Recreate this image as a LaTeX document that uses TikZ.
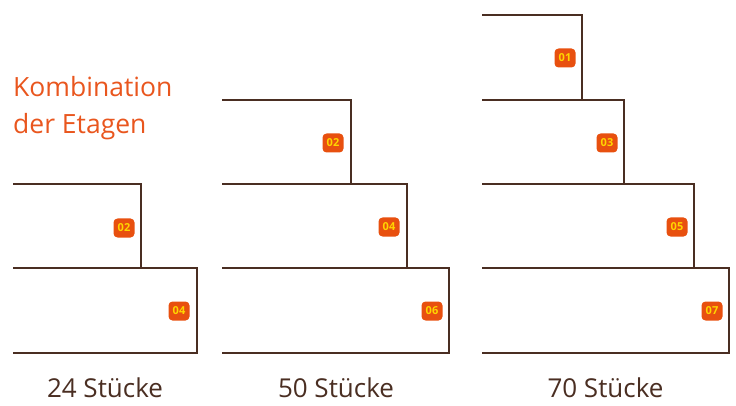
\documentclass[tikz,border=0pt]{standalone}
\usepackage{fontspec}
\setmainfont{Open Sans}
\newfontfamily\badgefont{Open Sans}
\definecolor{linebrown}{HTML}{4A2E22}
\definecolor{titleorange}{HTML}{E9561E}
\definecolor{badgefill}{HTML}{E8500F}
\definecolor{badgetext}{HTML}{FFD500}
\tikzset{
  tier/.style={draw=linebrown, line width=2pt, line cap=rect, line join=miter},
  badge/.style={fill=badgefill, text=badgetext, rounded corners=4pt, minimum width=21pt, minimum height=19pt, inner sep=0pt, font=\badgefont\bfseries\fontsize{11}{12}\selectfont},
  count/.style={text=linebrown, anchor=base, inner sep=0pt, font=\fontsize{26}{30}\selectfont},
  title/.style={text=titleorange, anchor=base west, inner sep=0pt, font=\fontsize{26.5}{30}\selectfont}
}
\begin{document}
\begin{tikzpicture}[x=1pt, y=-1pt]
\useasboundingbox (0,0) rectangle (736,406);
% title
\node[title] (t1) at (13,97) {Kombination};
\node[title] (t2) at (13,134) {der Etagen};
% left group: 24
\coordinate (a0) at (14,184);
\coordinate (a1) at (141,184);
\coordinate (a2) at (141,268);
\coordinate (a2l) at (14,268);
\coordinate (a3) at (197,268);
\coordinate (a4) at (197,353);
\coordinate (a4l) at (14,353);
\draw[tier] (a0) -- (a1) -- (a2);
\draw[tier] (a2l) -- (a3) -- (a4) -- (a4l);
\node[badge] (b02a) at (124,228) {02};
\node[badge] (b04a) at (179,311) {04};
\node[count] (c24) at (105,397) {24 Stücke};
% middle group: 50
\coordinate (m0) at (223,100);
\coordinate (m1) at (351,100);
\coordinate (m2) at (351,184);
\coordinate (m2l) at (223,184);
\coordinate (m3) at (407,184);
\coordinate (m4) at (407,268);
\coordinate (m4l) at (223,268);
\coordinate (m5) at (449,268);
\coordinate (m6) at (449,353);
\coordinate (m6l) at (223,353);
\draw[tier] (m0) -- (m1) -- (m2);
\draw[tier] (m2l) -- (m3) -- (m4);
\draw[tier] (m4l) -- (m5) -- (m6) -- (m6l);
\node[badge] (b02m) at (333,143) {02};
\node[badge] (b04m) at (389,227) {04};
\node[badge] (b06m) at (432,311) {06};
\node[count] (c50) at (336,397) {50 Stücke};
% right group: 70
\coordinate (r0) at (483,15);
\coordinate (r1) at (582,15);
\coordinate (r2) at (582,100);
\coordinate (r2l) at (483,100);
\coordinate (r3) at (624,100);
\coordinate (r4) at (624,184);
\coordinate (r4l) at (483,184);
\coordinate (r5) at (694,184);
\coordinate (r6) at (694,268);
\coordinate (r6l) at (483,268);
\coordinate (r7) at (729,268);
\coordinate (r8) at (729,353);
\coordinate (r8l) at (483,353);
\draw[tier] (r0) -- (r1) -- (r2);
\draw[tier] (r2l) -- (r3) -- (r4);
\draw[tier] (r4l) -- (r5) -- (r6);
\draw[tier] (r6l) -- (r7) -- (r8) -- (r8l);
\node[badge] (b01r) at (565,58) {01};
\node[badge] (b03r) at (607,143) {03};
\node[badge] (b05r) at (677,227) {05};
\node[badge] (b07r) at (712,311) {07};
\node[count] (c70) at (605.5,397) {70 Stücke};
\end{tikzpicture}
\end{document}
